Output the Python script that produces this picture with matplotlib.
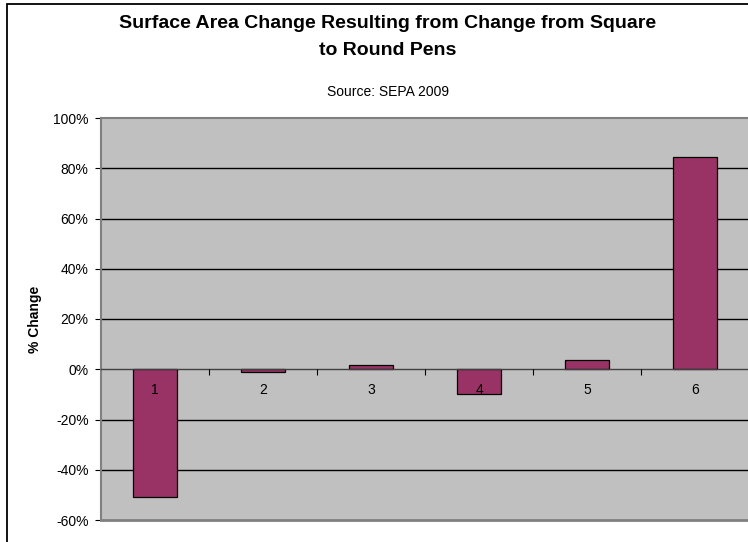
import matplotlib
matplotlib.use("Agg")
import matplotlib.pyplot as plt
import matplotlib.patches as patches
from matplotlib.ticker import FuncFormatter, FixedLocator

plt.rcParams['font.family'] = ['Liberation Sans', 'DejaVu Sans']

# pen sizes and the change in surface area going from square to round
pens = ['1', '2', '3', '4', '5', '6']
pct_change = [-0.508, -0.009, 0.017, -0.10, 0.037, 0.844]
y_ticks = [-0.6, -0.4, -0.2, 0.0, 0.2, 0.4, 0.6, 0.8, 1.0]

W, H = 748, 542
fig = plt.figure(figsize=(W / 100, H / 100), dpi=100)

# chart area border (runs off the right and bottom edge)
fig.patches.append(patches.Rectangle((7 / W, -0.05), 1.2, 1 - 4 / H + 0.05,
                                     transform=fig.transFigure, fill=False,
                                     edgecolor='black', linewidth=1.3))

ax = fig.add_axes([101 / W, (H - 520) / H, 648 / W, 402 / H])
ax.set_facecolor('#c0c0c0')

x = list(range(len(pens)))
ax.bar(x, pct_change, width=0.4, color='#993366', edgecolor='black',
       linewidth=0.9, zorder=2)

# horizontal gridlines behind the bars
for t in y_ticks:
    if t not in (0.0, -0.6, 1.0):
        ax.axhline(t, color='black', linewidth=1.0, zorder=0.5)

ax.set_xlim(-0.5, 5.5)
ax.set_ylim(-0.6, 1.0)
ax.yaxis.set_major_locator(FixedLocator(y_ticks))
ax.yaxis.set_major_formatter(FuncFormatter(lambda v, p: '%d%%' % round(v * 100)))
ax.tick_params(axis='y', length=4, width=0.8, color='black', labelsize=10, pad=5)

for s in ['left', 'top', 'right']:
    ax.spines[s].set_color('#808080')
    ax.spines[s].set_linewidth(1.5)
ax.spines['right'].set_visible(False)

# category axis crosses at zero, labels drawn over the bars
ax.spines['bottom'].set_position(('data', 0))
ax.spines['bottom'].set_color('#404040')
ax.spines['bottom'].set_linewidth(1.0)
ax.spines['bottom'].set_zorder(3)
ax.xaxis.set_zorder(5)
ax.set_xticks([i + 0.5 for i in x[:-1]], minor=True)
ax.set_xticks(x)
ax.set_xticklabels(pens, fontsize=10)
ax.tick_params(axis='x', which='major', length=0, pad=10)
ax.tick_params(axis='x', which='minor', length=4, width=0.8, color='black')

# bottom edge of the plot area
ax.axhline(-0.6, color='#808080', linewidth=2.0, zorder=4, clip_on=False)

ax.set_ylabel('% Change', fontsize=10, fontweight='bold')
ax.yaxis.set_label_coords((42 - 101) / 648, 0.5)

cx = 388 / W
fig.text(cx, 1 - 37 / H, 'Surface Area Change Resulting from Change from Square\nto Round Pens',
         ha='center', va='center', fontsize=14, fontweight='bold', linespacing=1.7)
fig.text(cx, 1 - 92 / H, 'Source: SEPA 2009', ha='center', va='center', fontsize=10)

fig.savefig('out.png', dpi=100)
